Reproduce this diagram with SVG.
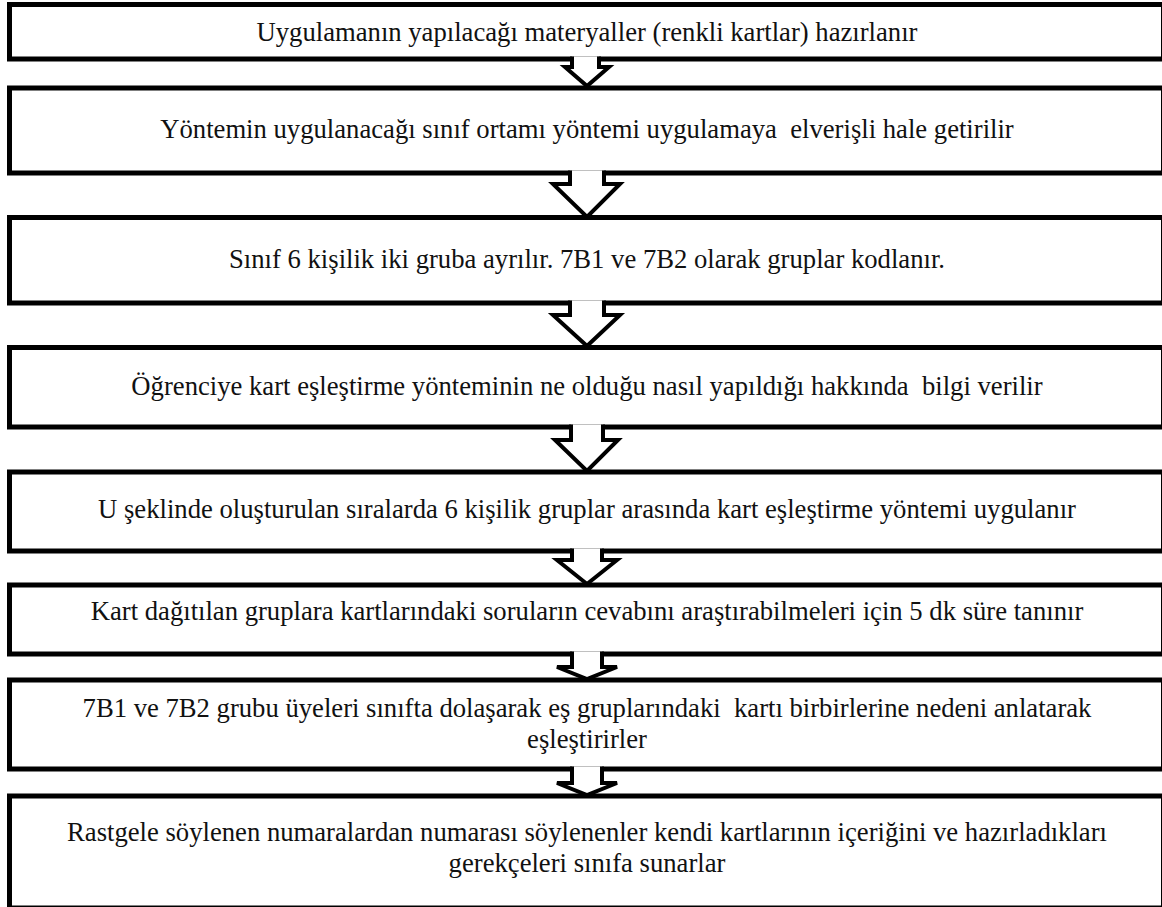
<svg xmlns="http://www.w3.org/2000/svg" width="1162" height="907" viewBox="0 0 1162 907">
  <style>
    .box { fill: #ffffff; stroke: #000000; stroke-width: 5; }
    .arrow { fill: #ffffff; stroke: #000000; stroke-width: 4; stroke-linejoin: miter; }
    .label { font-family: "Liberation Serif", "Times New Roman", serif; font-size: 26.67px; fill: #111111; text-anchor: middle; white-space: pre; }
  </style>
  <rect width="1162" height="907" fill="#ffffff"/>

  <!-- process steps -->
  <g id="step1">
    <rect class="box" x="9.5" y="4.5" width="1154" height="54.5"/>
    <text class="label" x="587" y="41">Uygulamanın yapılacağı materyaller (renkli kartlar) hazırlanır</text>
  </g>
  <g id="step2">
    <rect class="box" x="9.5" y="88" width="1154" height="85"/>
    <text class="label" x="587" y="138">Yöntemin uygulanacağı sınıf ortamı yöntemi uygulamaya  elverişli hale getirilir</text>
  </g>
  <g id="step3">
    <rect class="box" x="9.5" y="217.5" width="1154" height="85.5"/>
    <text class="label" x="587" y="268">Sınıf 6 kişilik iki gruba ayrılır. 7B1 ve 7B2 olarak gruplar kodlanır.</text>
  </g>
  <g id="step4">
    <rect class="box" x="9.5" y="347.5" width="1154" height="79.5"/>
    <text class="label" x="587" y="395">Öğrenciye kart eşleştirme yönteminin ne olduğu nasıl yapıldığı hakkında  bilgi verilir</text>
  </g>
  <g id="step5">
    <rect class="box" x="9.5" y="472" width="1154" height="79"/>
    <text class="label" x="587" y="518">U şeklinde oluşturulan sıralarda 6 kişilik gruplar arasında kart eşleştirme yöntemi uygulanır</text>
  </g>
  <g id="step6">
    <rect class="box" x="9.5" y="585" width="1154" height="69"/>
    <text class="label" x="587" y="620">Kart dağıtılan gruplara kartlarındaki soruların cevabını araştırabilmeleri için 5 dk süre tanınır</text>
  </g>
  <g id="step7">
    <rect class="box" x="9.5" y="680" width="1154" height="89"/>
    <text class="label" x="587" y="717">7B1 ve 7B2 grubu üyeleri sınıfta dolaşarak eş gruplarındaki  kartı birbirlerine nedeni anlatarak</text>
    <text class="label" x="587" y="748">eşleştirirler</text>
  </g>
  <g id="step8">
    <rect class="box" x="9.5" y="796" width="1154" height="112"/>
    <text class="label" x="587" y="841">Rastgele söylenen numaralardan numarası söylenenler kendi kartlarının içeriğini ve hazırladıkları</text>
    <text class="label" x="587" y="872">gerekçeleri sınıfa sunarlar</text>
  </g>

  <!-- block arrows: open paths, so the fill hides the box edge under the shaft while the stroke leaves it open -->
  <g id="connectors">
    <path class="arrow" d="M572,56.5 V67 H565 L587,86 L609,67 H599 V56.5"/>
    <path class="arrow" d="M570,170.5 V184 H553 L587,217 L620,184 H604 V170.5"/>
    <path class="arrow" d="M570,300.5 V315 H553 L587,346 L620,315 H604 V300.5"/>
    <path class="arrow" d="M571,424.5 V440 H555 L587,471 L618,440 H603 V424.5"/>
    <path class="arrow" d="M572,548.5 V560 H557 L587,584 L617,560 H602 V548.5"/>
    <path class="arrow" d="M572,651.5 V667 H557 L587,679 L617,667 H602 V651.5"/>
    <path class="arrow" d="M572,766.5 V783 H557 L587,795 L617,783 H602 V766.5"/>
  </g>
</svg>
